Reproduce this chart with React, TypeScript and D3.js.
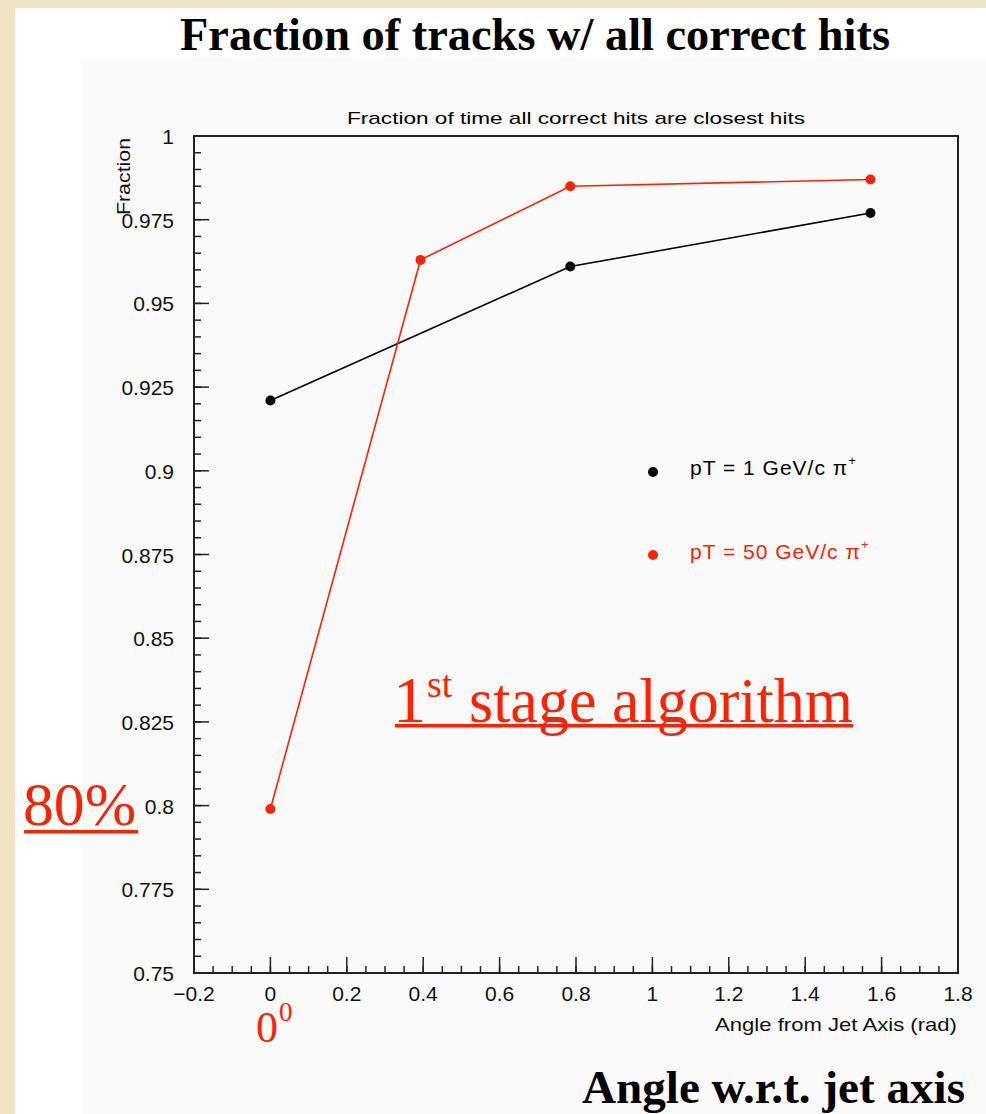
import React from "react";
import * as d3 from "d3";

// pT = 1 GeV/c pi+
const angles1 = [0, 0.785, 1.571];
const frac1 = [0.921, 0.961, 0.977];
// pT = 50 GeV/c pi+
const angles50 = [0, 0.393, 0.785, 1.571];
const frac50 = [0.799, 0.963, 0.985, 0.987];

const xTickValues = [-0.2, 0, 0.2, 0.4, 0.6, 0.8, 1, 1.2, 1.4, 1.6, 1.8];
const yTickValues = [0.75, 0.775, 0.8, 0.825, 0.85, 0.875, 0.9, 0.925, 0.95, 0.975, 1];

const seriesLabels = ["pT = 1 GeV/c \u03C0", "pT = 50 GeV/c \u03C0"];
const seriesColors = ["#000000", "#ff2200"];

const W = 986, H = 1114;
const left = 194, right = 958, top = 136, bottom = 973;
const axisFont = "'Liberation Sans', Arial, sans-serif";
const serif = "'Liberation Serif', 'Times New Roman', serif";
const red = "#ff2200";

const App = () => {
    const x = d3.scaleLinear().domain([-0.2, 1.8]).range([left, right]);
    const y = d3.scaleLinear().domain([0.75, 1]).range([bottom, top]);
    const fmt = d3.format("~g");

    const xMinor = d3.range(-0.2, 1.8001, 0.05);
    const yMinor = d3.range(0.75, 1.0001, 0.005);

    const line = d3.line<[number, number]>().x(d => x(d[0])).y(d => y(d[1]));
    const series = [
        { xs: angles1, ys: frac1 },
        { xs: angles50, ys: frac50 },
    ];

    return (
        <svg width={W} height={H} style={{ position: "absolute", left: 0, top: 0 }}>
            {/* slide background */}
            <rect x={0} y={0} width={W} height={H} fill="#eee4c4" />
            <rect x={15} y={8} width={W - 15} height={H - 8} fill="#ffffff" />
            <rect x={81} y={58} width={W - 81} height={H - 58} fill="#fafafa" />

            <text x={535} y={50} textAnchor="middle" fontFamily={serif} fontWeight="bold"
                fontSize={46} textLength={710} lengthAdjust="spacingAndGlyphs">
                Fraction of tracks w/ all correct hits
            </text>

            <text x={576} y={124} textAnchor="middle" fontFamily={axisFont} fontSize={17}
                textLength={458} lengthAdjust="spacingAndGlyphs">
                Fraction of time all correct hits are closest hits
            </text>

            {/* minor ticks */}
            {xMinor.map((v, i) => (
                <line key={"xm" + i} x1={x(v)} x2={x(v)} y1={bottom} y2={bottom - 7} stroke="#222" strokeWidth={1.5} />
            ))}
            {yMinor.map((v, i) => (
                <line key={"ym" + i} x1={left} x2={left + 7} y1={y(v)} y2={y(v)} stroke="#222" strokeWidth={1.5} />
            ))}
            {/* major ticks + labels */}
            {xTickValues.map((v, i) => (
                <g key={"xt" + i}>
                    <line x1={x(v)} x2={x(v)} y1={bottom} y2={bottom - 16} stroke="#222" strokeWidth={1.5} />
                    <text x={x(v)} y={1001} textAnchor="middle" fontFamily={axisFont} fontSize={21} fill="#111">
                        {fmt(v)}
                    </text>
                </g>
            ))}
            {yTickValues.map((v, i) => (
                <g key={"yt" + i}>
                    <line x1={left} x2={left + 15} y1={y(v)} y2={y(v)} stroke="#222" strokeWidth={1.5} />
                    <text x={174} y={y(v) + 8} textAnchor="end" fontFamily={axisFont} fontSize={21} fill="#111">
                        {fmt(v)}
                    </text>
                </g>
            ))}

            {/* frame */}
            <rect x={left} y={top} width={right - left} height={bottom - top} fill="none" stroke="#222" strokeWidth={2} />

            <text x={957} y={1031} textAnchor="end" fontFamily={axisFont} fontSize={19} fill="#111"
                textLength={242} lengthAdjust="spacingAndGlyphs">
                Angle from Jet Axis (rad)
            </text>
            <text transform="translate(130,138) rotate(-90)" textAnchor="end" fontFamily={axisFont}
                fontSize={19} fill="#111" textLength={77} lengthAdjust="spacingAndGlyphs">
                Fraction
            </text>

            {/* data */}
            {series.map((s, si) => (
                <g key={"s" + si}>
                    <path d={line(s.xs.map((v, i) => [v, s.ys[i]] as [number, number])) || ""}
                        fill="none" stroke={seriesColors[si]} strokeWidth={1.6} />
                    {s.xs.map((v, i) => (
                        <circle key={i} cx={x(v)} cy={y(s.ys[i])} r={5} fill={seriesColors[si]} />
                    ))}
                </g>
            ))}

            {/* legend */}
            {seriesLabels.map((lab, i) => (
                <g key={"lg" + i}>
                    <circle cx={653} cy={i === 0 ? 472 : 555} r={5} fill={seriesColors[i]} />
                    <text x={690} y={i === 0 ? 475 : 559} fontFamily={axisFont} fontSize={21}
                        letterSpacing={1} fill={seriesColors[i]}>
                        {lab}
                        <tspan fontSize={13} dy={-10}>+</tspan>
                    </text>
                </g>
            ))}

            {/* annotations */}
            <g fill={red} fontFamily={serif}>
                <text x={393} y={722} fontSize={66}>1</text>
                <text x={427} y={697} fontSize={38}>st</text>
                <text x={469} y={722} fontSize={64} textLength={384} lengthAdjust="spacingAndGlyphs">
                    stage algorithm
                </text>
                <rect x={395} y={724} width={458} height={3.5} />

                <text x={23} y={825} fontSize={62} textLength={113} lengthAdjust="spacingAndGlyphs">80%</text>
                <rect x={24} y={830} width={114} height={3.5} />

                <text x={256} y={1042} fontSize={44}>0</text>
                <text x={279} y={1021} fontSize={27}>0</text>
            </g>

            <text x={582} y={1103} fontFamily={serif} fontWeight="bold" fontSize={46}
                textLength={383} lengthAdjust="spacingAndGlyphs">
                Angle w.r.t. jet axis
            </text>
        </svg>
    );
};

export default App;
